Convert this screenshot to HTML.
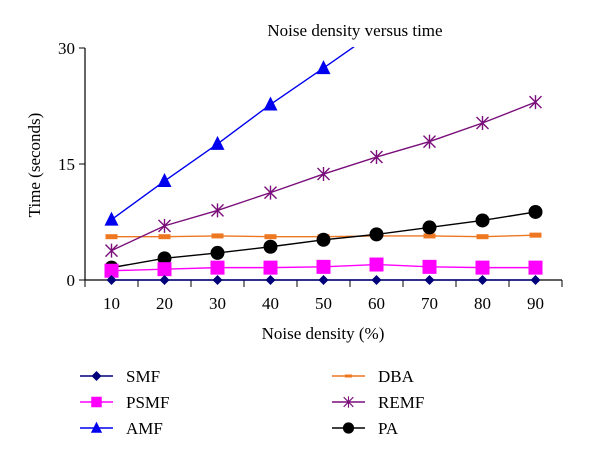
<!DOCTYPE html>
<html><head><meta charset="utf-8"><style>
body{margin:0;background:#fff}
svg{display:block;font-family:"Liberation Serif",serif}
</style></head><body>
<svg id="chart" width="600" height="459">
<defs><clipPath id="plotclip"><rect x="85" y="47" width="480" height="240"/></clipPath></defs>
<text x="355" y="36" font-size="17" text-anchor="middle">Noise density versus time</text>
<text transform="translate(40,165) rotate(-90)" font-size="17" text-anchor="middle">Time (seconds)</text>
<text x="323" y="339" font-size="17" text-anchor="middle">Noise density (%)</text>
<g id="axes"></g>
<g id="series" clip-path="url(#plotclip)"></g>
<g id="legend"></g>
</svg>
<script>
const categories=[10,20,30,40,50,60,70,80,90];
const yTicks=[0,15,30];
const smf=[0,0,0,0,0,0,0,0,0];
const psmf=[1.2,1.4,1.6,1.6,1.7,2.0,1.7,1.6,1.6];
const amf=[7.8,12.8,17.6,22.7,27.4,32.2];
const dba=[5.6,5.6,5.7,5.6,5.6,5.7,5.7,5.6,5.8];
const remf=[3.8,7.0,9.0,11.3,13.7,15.9,17.9,20.3,23.0];
const pa=[1.6,2.8,3.5,4.3,5.2,5.9,6.8,7.7,8.8];
const seriesNames=["SMF","PSMF","AMF","DBA","REMF","PA"];

const NS="http://www.w3.org/2000/svg";
const X0=85,STEP=53,Y0=280,Y30=48;
const xs=i=>X0+STEP*(i+0.5);
const ys=v=>Y0-(v/30)*(Y0-Y30);
function mk(tag,attrs,parent){const e=document.createElementNS(NS,tag);for(const k in attrs)e.setAttribute(k,attrs[k]);parent.appendChild(e);return e;}
const axes=document.getElementById('axes'),sg=document.getElementById('series'),lg=document.getElementById('legend');

let a=mk('line',{x1:X0,y1:Y30,x2:X0,y2:Y0,stroke:'#000','stroke-width':1.2},axes);


a=mk('line',{x1:X0,y1:Y0,x2:X0+STEP*9,y2:Y0,stroke:'#000','stroke-width':1.2},axes);


yTicks.forEach(t=>{
  mk('line',{x1:X0-6,y1:ys(t),x2:X0,y2:ys(t),stroke:'#000'},axes);
  const tx=mk('text',{x:X0-10,y:ys(t)+6,'font-size':17,'text-anchor':'end'},axes);tx.textContent=t;
  
  
});
for(let i=0;i<=9;i++)mk('line',{x1:X0+STEP*i,y1:Y0,x2:X0+STEP*i,y2:Y0+7,stroke:'#000'},axes);
categories.forEach((c,i)=>{
  const tx=mk('text',{x:xs(i),y:Y0+29,'font-size':17,'text-anchor':'middle'},axes);tx.textContent=c;
  
  
});

function marker(type,x,y,color,p){
  let g;
  if(type==='diamond')g=mk('polygon',{points:`${x},${y-5} ${x+5},${y} ${x},${y+5} ${x-5},${y}`,fill:color},p);
  else if(type==='square')g=mk('rect',{x:x-7,y:y-7,width:14,height:14,fill:color},p);
  else if(type==='tri')g=mk('polygon',{points:`${x},${y-8} ${x+7},${y+6} ${x-7},${y+6}`,fill:color},p);
  else if(type==='dash')g=mk('rect',{x:x-6,y:y-2.5,width:12,height:5,fill:color},p);
  else if(type==='star'){g=mk('path',{d:`M${x-6},${y-6}L${x+6},${y+6}M${x-6},${y+6}L${x+6},${y-6}M${x},${y-7}L${x},${y+7}`,stroke:color,'stroke-width':1.4,fill:'none'},p);}
  else g=mk('circle',{cx:x,cy:y,r:7,fill:color},p);
  return g;
}
const defs=[
 {d:smf,c:'#00007a',m:'diamond'},
 {d:psmf,c:'#ff00ff',m:'square'},
 {d:amf,c:'#0000ee',m:'tri'},
 {d:dba,c:'#ee7722',m:'dash'},
 {d:remf,c:'#7a0f7a',m:'star'},
 {d:pa,c:'#000',m:'circle'}];
const drawOrder=[3,4,5,1,0,2];
drawOrder.forEach(k=>{
  const s=defs[k];
  const g=mk('g',{},sg);
  
  
  const line=mk('polyline',{points:s.d.map((v,i)=>xs(i)+','+ys(v)).join(' '),fill:'none',stroke:s.c,'stroke-width':1.4},g);
  
  
  s.d.forEach((v,i)=>{if(ys(v)<Y30)return;const m=marker(s.m,xs(i),ys(v),s.c,g);
    
    });
});
const lpos=[[80,376],[80,402],[80,428],[332,376],[332,402],[332,428]];
defs.forEach((s,k)=>{
  const [x,y]=lpos[k];
  const g=mk('g',{},lg);
  
  
  mk('line',{x1:x,y1:y,x2:x+33,y2:y,stroke:s.c,'stroke-width':1.4},g);
  const sc={diamond:1,square:.75,tri:.8,dash:.6,star:.8,circle:.8}[s.m];
  const mg=mk('g',{transform:`translate(${x+16.5},${y}) scale(${sc})`},g);
  marker(s.m,0,0,s.c,mg);
  const t=mk('text',{x:x+46,y:y+6,'font-size':17},g);t.textContent=seriesNames[k];
});
</script>
</body></html>
